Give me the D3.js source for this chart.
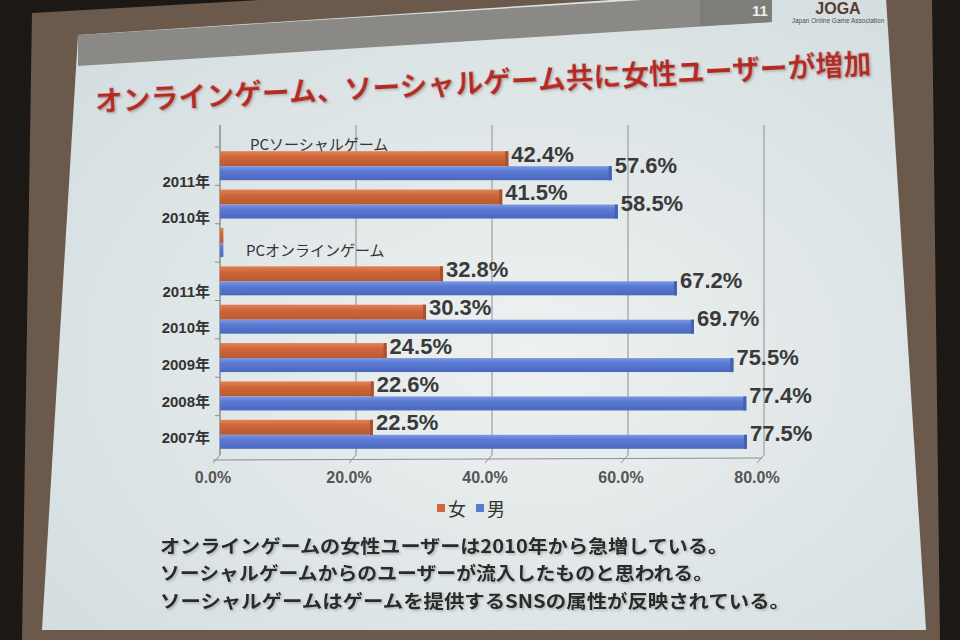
<!DOCTYPE html>
<html><head><meta charset="utf-8">
<script src="https://cdn.jsdelivr.net/npm/d3@7"></script>
<style>
html,body{margin:0;padding:0;background:#1e1a17;}
svg{display:block;}
text{font-family:"Liberation Sans","Noto Sans CJK JP",sans-serif;}
.jp{font-family:"Noto Sans CJK JP","Liberation Sans",sans-serif;}
</style></head>
<body>
<svg id="c" width="960" height="640"></svg>
<script>
// ---- data ----
const title = "オンラインゲーム、ソーシャルゲーム共に女性ユーザーが増加";
const groups = ["PCソーシャルゲーム", "PCオンラインゲーム"];
const categories = ["S2011", "S2010", "gap", "O2011", "O2010", "O2009", "O2008", "O2007"];
const yearLabels = ["2011年", "2010年", "", "2011年", "2010年", "2009年", "2008年", "2007年"];
const female = [42.4, 41.5, 0.5, 32.8, 30.3, 24.5, 22.6, 22.5];
const male   = [57.6, 58.5, 0.5, 67.2, 69.7, 75.5, 77.4, 77.5];
const xTicks = [0, 20, 40, 60, 80];
const tickLabels = ["0.0%", "20.0%", "40.0%", "60.0%", "80.0%"];
const seriesNames = ["女", "男"];
const notes = [
  "オンラインゲームの女性ユーザーは2010年から急増している。",
  "ソーシャルゲームからのユーザーが流入したものと思われる。",
  "ソーシャルゲームはゲームを提供するSNSの属性が反映されている。"
];
const pageNo = "11";

const svg = d3.select("#c");
const defs = svg.append("defs");

// shadow filter for slide texts
const sh = defs.append("filter").attr("id", "sh").attr("x", "-5%").attr("y", "-30%").attr("width", "110%").attr("height", "160%");
sh.append("feDropShadow").attr("dx", 1.5).attr("dy", 1.5).attr("stdDeviation", 0.8)
  .attr("flood-color", "#888").attr("flood-opacity", 0.55);

// ---- backdrop (photo of projected slide) ----
svg.append("rect").attr("width", 960).attr("height", 640).attr("fill", "#1c1816");
svg.append("polygon").attr("points", "32,13 260,0 932,0 940,640 22,640")
  .attr("fill", "#6b5a4b");
const rg = defs.append("radialGradient").attr("id", "slideG").attr("cx", "55%").attr("cy", "58%").attr("r", "70%");
rg.append("stop").attr("offset", "0%").attr("stop-color", "#eef1f0");
rg.append("stop").attr("offset", "100%").attr("stop-color", "#d3dde0");
svg.append("polygon").attr("points", "78,35 885,-18 926,630 42,630")
  .attr("fill", "url(#slideG)");
// header band
svg.append("polygon").attr("points", "78,35 772,-8 772,22 78,66").attr("fill", "#8a8985");
svg.append("polygon").attr("points", "700,-4 772,-8 772,22 700,26").attr("fill", "#7e7d79");
svg.append("text").text(pageNo).attr("x", 752).attr("y", 16).attr("fill", "#eeeeee")
  .attr("font-size", 15).attr("font-weight", "bold");
svg.append("text").text("JOGA").attr("x", 838).attr("y", 14).attr("text-anchor", "middle")
  .attr("fill", "#5b3b2c").attr("font-size", 16).attr("font-weight", "bold");
svg.append("text").text("Japan Online Game Association").attr("x", 838).attr("y", 23).attr("text-anchor", "middle")
  .attr("fill", "#5b4b44").attr("font-size", 6.5);

// ---- title ----
const tg = svg.append("g").attr("transform", "rotate(-2.8,95,101)");
tg.append("text").attr("class", "jp").text(title).attr("x", 95).attr("y", 112)
  .attr("font-size", 28).attr("font-weight", "bold").attr("fill", "#b42a20").attr("filter", "url(#sh)")
  .attr("textLength", 777).attr("lengthAdjust", "spacingAndGlyphs");

// ---- scales ----
const x = d3.scaleLinear().domain([0, 80]).range([220, 764]);
const y = d3.scaleBand().domain(categories).range([147, 454]).padding(0);
const yFront = d3.scaleBand().domain(categories).range([163, 456]).padding(0);
const cy = c => y(c) + y.bandwidth() / 2;

// gridlines (back wall)
svg.append("g").selectAll("line").data(xTicks).join("line")
  .attr("x1", d => x(d)).attr("x2", d => x(d)).attr("y1", 125).attr("y2", 455)
  .attr("stroke", "#8d8f90").attr("stroke-width", 1);
// floor diagonals & front axis
svg.append("g").selectAll("line").data(xTicks).join("line")
  .attr("x1", d => x(d)).attr("x2", d => x(d) - 7).attr("y1", 455).attr("y2", 463)
  .attr("stroke", "#8d8f90");
svg.append("line").attr("x1", x(0) - 7).attr("x2", x(80) - 2).attr("y1", 460).attr("y2", 458)
  .attr("stroke", "#8d8f90");
// left axis
svg.append("line").attr("x1", x(0)).attr("x2", x(0)).attr("y1", 125).attr("y2", 455).attr("stroke", "#8d8f90");
svg.append("g").selectAll("line").data(categories).join("line")
  .attr("x1", x(0) - 5).attr("x2", x(0)).attr("y1", d => y(d)).attr("y2", d => y(d))
  .attr("stroke", "#8d8f90");

// gradients for bars
function grad(id, top, mid, bot) {
  const g = defs.append("linearGradient").attr("id", id).attr("x1", 0).attr("x2", 0).attr("y1", 0).attr("y2", 1);
  g.append("stop").attr("offset", "0%").attr("stop-color", top);
  g.append("stop").attr("offset", "35%").attr("stop-color", mid);
  g.append("stop").attr("offset", "100%").attr("stop-color", bot);
}
grad("gf", "#e08357", "#cf683b", "#b9582f");
grad("gm", "#7d98e2", "#5a7ad3", "#4a68bf");

const rows = categories.map((c, i) => ({c, i, f: female[i], m: male[i]}));
const bh = 15;
// female bars
svg.append("g").selectAll("rect").data(rows).join("rect")
  .attr("x", x(0)).attr("y", d => cy(d.c) - bh).attr("height", bh)
  .attr("width", d => x(d.f) - x(0)).attr("fill", "url(#gf)");
// male bars
svg.append("g").selectAll("rect").data(rows).join("rect")
  .attr("x", x(0)).attr("y", d => cy(d.c)).attr("height", bh - 1)
  .attr("width", d => x(d.m) - x(0)).attr("fill", "url(#gm)");
// end caps
svg.append("g").selectAll("rect").data(rows.filter(d => d.f > 1)).join("rect")
  .attr("x", d => x(d.f) - 3).attr("y", d => cy(d.c) - bh).attr("height", bh).attr("width", 3).attr("fill", "#a9512c");
svg.append("g").selectAll("rect").data(rows.filter(d => d.m > 1)).join("rect")
  .attr("x", d => x(d.m) - 3).attr("y", d => cy(d.c)).attr("height", bh - 1).attr("width", 3).attr("fill", "#4560b0");

// data labels
const lab = rows.filter(d => d.f > 1);
svg.append("g").selectAll("text").data(lab).join("text")
  .text(d => d.f.toFixed(1) + "%").attr("x", d => x(d.f) + 3).attr("y", d => cy(d.c) - 12)
  .attr("dominant-baseline", "central").attr("font-size", 22).attr("font-weight", "bold").attr("fill", "#3a3a3a");
svg.append("g").selectAll("text").data(lab).join("text")
  .text(d => d.m.toFixed(1) + "%").attr("x", d => x(d.m) + 3).attr("y", d => cy(d.c) - 1)
  .attr("dominant-baseline", "central").attr("font-size", 22).attr("font-weight", "bold").attr("fill", "#3a3a3a");

// category labels
svg.append("g").selectAll("text").data(categories).join("text")
  .text((d, i) => yearLabels[i]).attr("x", 210).attr("y", d => yFront(d) + yFront.bandwidth() / 2)
  .attr("text-anchor", "end").attr("dominant-baseline", "central")
  .attr("font-size", 15).attr("font-weight", "bold").attr("fill", "#333");

// group labels
svg.append("text").attr("class", "jp").text(groups[0]).attr("x", 250).attr("y", 143)
  .attr("dominant-baseline", "central").attr("font-size", 15).attr("fill", "#333");
svg.append("text").attr("class", "jp").text(groups[1]).attr("x", 246).attr("y", 249)
  .attr("dominant-baseline", "central").attr("font-size", 15).attr("fill", "#333");

// x tick labels
svg.append("g").selectAll("text").data(xTicks).join("text")
  .text((d, i) => tickLabels[i]).attr("x", d => x(d) - 7).attr("y", 477)
  .attr("text-anchor", "middle").attr("dominant-baseline", "central")
  .attr("font-size", 16).attr("font-weight", "bold").attr("fill", "#555");

// legend
const legColors = ["#cf683b", "#5a7ad3"];
const lg = svg.append("g");
const legX = [437, 476];
seriesNames.forEach((n, i) => {
  lg.append("rect").attr("x", legX[i]).attr("y", 504).attr("width", 8).attr("height", 8).attr("fill", legColors[i]);
  lg.append("text").attr("class", "jp").text(n).attr("x", legX[i] + 11).attr("y", 508)
    .attr("dominant-baseline", "central").attr("font-size", 18).attr("fill", "#333");
});

// notes
const ny = [545, 572, 600];
const nw = [568, 553, 630];
notes.forEach((t, i) => {
  svg.append("text").attr("class", "jp").text(t).attr("x", 160).attr("y", ny[i])
    .attr("dominant-baseline", "central").attr("font-size", 18.5).attr("font-weight", "bold")
    .attr("textLength", nw[i]).attr("lengthAdjust", "spacingAndGlyphs")
    .attr("fill", "#2a2a2a").attr("filter", "url(#sh)");
});
</script>
</body></html>
